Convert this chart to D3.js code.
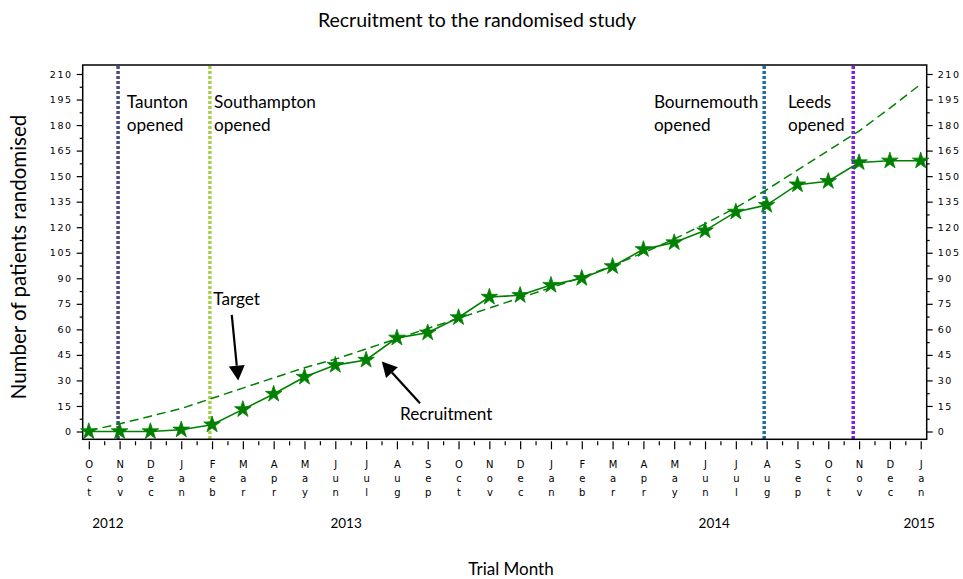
<!DOCTYPE html>
<html>
<head>
<meta charset="utf-8">
<title>Recruitment</title>
<script src="https://d3js.org/d3.v7.min.js"></script>
<style>
  body { margin: 0; background: #fff; }
  .tick text { font-family: "DejaVu Sans", sans-serif; }
</style>
</head>
<body>
<svg width="963" height="579"></svg>
<script>

// monthly data, Oct 2012 .. Jan 2015
var months = ["Oct","Nov","Dec","Jan","Feb","Mar","Apr","May","Jun","Jul","Aug","Sep","Oct","Nov",
              "Dec","Jan","Feb","Mar","Apr","May","Jun","Jul","Aug","Sep","Oct","Nov","Dec","Jan"];
var recruited = [0,0,0,1,4,13,22,32,39,42,55,58,67,79,80,86,90,97,107,111,118,129,133,145,147,158,159,159];
var target = [0.5,4.5,9,13.5,19.5,25.5,31.5,37.5,42.5,48.5,54.5,60.5,66.5,72.5,78.5,84.5,90.5,97.5,
              105,113,122,131.5,142,153.5,165,176.5,190,204];

var years = ["2012","2013","2014","2015"];
var yearAt = [0.62, 8.35, 20.3, 26.95];

// centre openings (month index, fractional)
var sites = ["Taunton","Southampton","Bournemouth","Leeds"];
var openedAt = [0.95, 3.93, 21.92, 24.81];
var siteColors = ["#4b4b85","#a8cf4c","#1f6da3","#7f1fef"];
var labelAt = [1.23, 4.06, 18.34, 22.69];

var yTicks = d3.range(0, 211, 15);

var svg = d3.select("svg");
var pLeft = 82.7, pRight = 926.7, pTop = 65, pBottom = 439.3;

var x = d3.scaleLinear().domain([0, 27]).range([88.8, 920.7]);
var y = d3.scaleLinear().domain([0, 210]).range([431.5, 74]);

var green = "#008000";
var labelFont = "17.2px";

// title + axis titles
svg.append("text")
    .attr("x", 477).attr("y", 27)
    .attr("text-anchor", "middle")
    .style("font-family", "Lato").style("font-size", "19.5px")
    .text("Recruitment to the randomised study");

svg.append("text")
    .attr("transform", "translate(26,257) rotate(-90)")
    .attr("text-anchor", "middle")
    .style("font-family", "Lato").style("font-size", "20.5px")
    .text("Number of patients randomised");

svg.append("text")
    .attr("x", 511).attr("y", 575)
    .attr("text-anchor", "middle")
    .style("font-family", "Lato").style("font-size", "17px")
    .text("Trial Month");

// y axes (left and right), major + minor
function styleAxis(g) {
  g.select(".domain").remove();
  g.selectAll("line").attr("stroke", "#000").attr("stroke-width", 1.2);
  g.selectAll("text").style("font-size", "9.5px").style("letter-spacing", "1.6px");
}

var minorY = yTicks.slice(0, -1).map(function(d) { return d + 7.5; });

svg.append("g")
    .attr("transform", "translate(" + pLeft + ",0)")
    .call(d3.axisLeft(y).tickValues(yTicks).tickSize(6).tickPadding(4))
    .call(styleAxis);
svg.append("g")
    .attr("transform", "translate(" + pLeft + ",0)")
    .call(d3.axisLeft(y).tickValues(minorY).tickSize(3).tickFormat(""))
    .call(styleAxis);

svg.append("g")
    .attr("transform", "translate(" + pRight + ",0)")
    .call(d3.axisRight(y).tickValues(yTicks).tickSize(6).tickPadding(5))
    .call(styleAxis);
svg.append("g")
    .attr("transform", "translate(" + pRight + ",0)")
    .call(d3.axisRight(y).tickValues(minorY).tickSize(3).tickFormat(""))
    .call(styleAxis);

// x axis: month ticks with stacked letters
var xa = svg.append("g")
    .attr("transform", "translate(0," + (pBottom + 2) + ")")
    .call(d3.axisBottom(x).tickValues(d3.range(months.length)).tickSize(8).tickFormat(""))
    .call(styleAxis);
svg.append("g")
    .attr("transform", "translate(0," + (pBottom + 2) + ")")
    .call(d3.axisBottom(x).tickValues(d3.range(months.length - 1).map(function(d) { return d + 0.5; })).tickSize(4).tickFormat(""))
    .call(styleAxis);

xa.selectAll(".tick").append("text")
    .attr("fill", "#000")
    .style("font-size", "10px")
    .attr("text-anchor", "middle")
  .selectAll("tspan")
  .data(function(d) { return months[d].split(""); })
  .enter().append("tspan")
    .attr("x", 0)
    .attr("y", function(d, i) { return 27 + i * 14; })
    .text(function(d) { return d; });

svg.selectAll(".year")
  .data(years)
  .enter().append("text")
    .attr("class", "year")
    .attr("x", function(d, i) { return x(yearAt[i]); })
    .attr("y", 528)
    .attr("text-anchor", "middle")
    .style("font-family", "Lato").style("font-size", "13.5px")
    .text(function(d) { return d; });

// centre opening lines
svg.selectAll(".site")
  .data(sites)
  .enter().append("line")
    .attr("class", "site")
    .attr("x1", function(d, i) { return x(openedAt[i]); })
    .attr("x2", function(d, i) { return x(openedAt[i]); })
    .attr("y1", pTop + 1).attr("y2", pBottom)
    .attr("stroke", function(d, i) { return siteColors[i]; })
    .attr("stroke-width", 3.5)
    .attr("stroke-dasharray", "3,2");

var siteLabel = svg.selectAll(".sitelabel")
  .data(sites)
  .enter().append("text")
    .attr("class", "sitelabel")
    .style("font-family", "Lato").style("font-size", labelFont);
siteLabel.append("tspan")
    .attr("x", function(d, i) { return x(labelAt[i]); })
    .attr("y", 108)
    .text(function(d) { return d; });
siteLabel.append("tspan")
    .attr("x", function(d, i) { return x(labelAt[i]); })
    .attr("y", 131)
    .text("opened");

// target (dashed) and recruitment (solid + stars)
var line = d3.line()
    .x(function(d, i) { return x(i); })
    .y(function(d) { return y(d); });

svg.append("path")
    .datum(target)
    .attr("d", line)
    .attr("fill", "none")
    .attr("stroke", green)
    .attr("stroke-width", 1.5)
    .attr("stroke-dasharray", "9,5");

svg.append("path")
    .datum(recruited)
    .attr("d", line)
    .attr("fill", "none")
    .attr("stroke", green)
    .attr("stroke-width", 1.6);

// frame
svg.append("rect")
    .attr("x", pLeft).attr("y", pTop)
    .attr("width", pRight - pLeft).attr("height", pBottom - pTop)
    .attr("fill", "none")
    .attr("stroke", "#000")
    .attr("stroke-width", 1.5);

svg.selectAll(".star")
  .data(recruited)
  .enter().append("path")
    .attr("class", "star")
    .attr("transform", function(d, i) { return "translate(" + x(i) + "," + y(d) + ")"; })
    .attr("d", d3.symbol().type(d3.symbolStar).size(85))
    .attr("fill", green)
    .attr("stroke", green)
    .attr("stroke-width", 0.8);

// annotations with arrows
var notes = [
  {text: "Target", tx: 4.04, ty: 74.4, from: [4.64, 68.5], to: [4.85, 29.9]},
  {text: "Recruitment", tx: 10.1, ty: 6.8, from: [10.75, 16.6], to: [9.51, 41.1]}
];

notes.forEach(function(n) {
  svg.append("text")
      .attr("x", x(n.tx)).attr("y", y(n.ty))
      .style("font-family", "Lato").style("font-size", labelFont)
      .text(n.text);

  var x0 = x(n.from[0]), y0 = y(n.from[1]), x1 = x(n.to[0]), y1 = y(n.to[1]);
  var a = Math.atan2(y1 - y0, x1 - x0), hl = 15, hw = 8;
  var bx = x1 - hl * Math.cos(a), by = y1 - hl * Math.sin(a);
  svg.append("line")
      .attr("x1", x0).attr("y1", y0).attr("x2", bx).attr("y2", by)
      .attr("stroke", "#000").attr("stroke-width", 2.2);
  svg.append("path")
      .attr("d", "M" + x1 + "," + y1 +
                 "L" + (bx + hw * Math.sin(a)) + "," + (by - hw * Math.cos(a)) +
                 "L" + (bx - hw * Math.sin(a)) + "," + (by + hw * Math.cos(a)) + "Z")
      .attr("fill", "#000");
});

</script>
</body>
</html>
